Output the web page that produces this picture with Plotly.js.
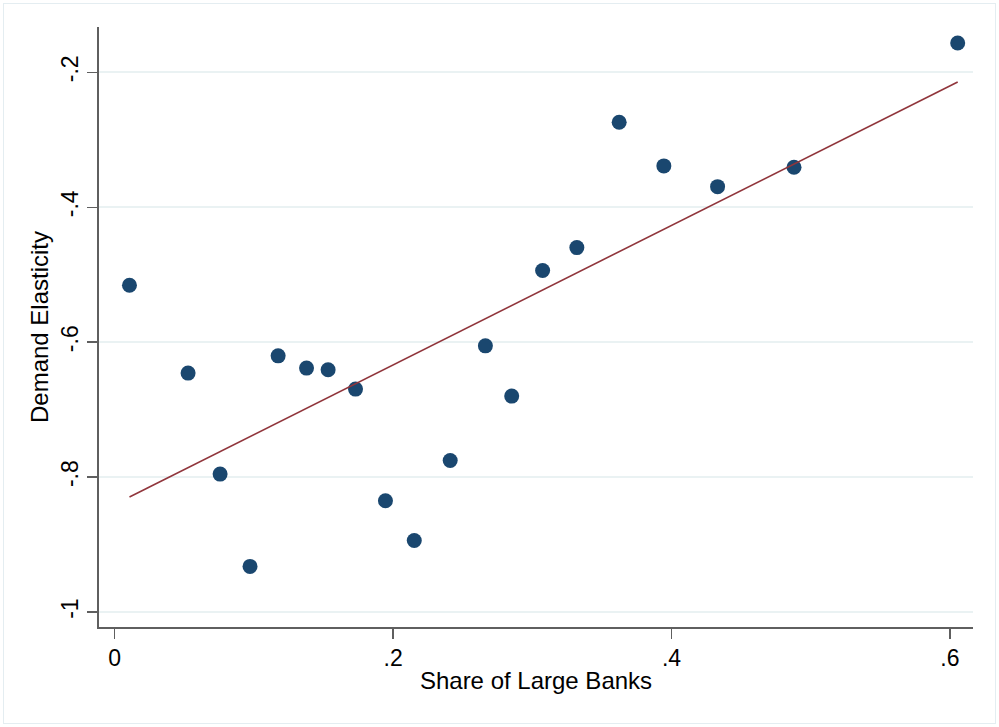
<!DOCTYPE html>
<html>
<head>
<meta charset="utf-8">
<script src="https://cdn.plot.ly/plotly-3.0.1.min.js"></script>
<style>
  html, body { margin: 0; padding: 0; background: #ffffff; }
  #wrap { position: relative; width: 999px; height: 727px; }
  #chart { width: 999px; height: 727px; }
  #frame { position: absolute; left: 3px; top: 3px; width: 991px; height: 719px;
           border: 1.5px solid #e4edf1; pointer-events: none; }
</style>
</head>
<body>
<div id="wrap"><div id="chart"></div><div id="frame"></div></div>
<script>
// Scatter points: share of large banks vs demand elasticity
const shareLargeBanks = [0.0106, 0.0527, 0.0757, 0.0972, 0.1174, 0.1378, 0.1533, 0.1730, 0.1945, 0.2152,
                         0.2410, 0.2663, 0.2852, 0.3074, 0.3320, 0.3624, 0.3945, 0.4331, 0.4880, 0.6056];
const demandElasticity = [-0.5156, -0.6459, -0.7956, -0.9324, -0.6203, -0.6385, -0.6410, -0.6696, -0.8351, -0.8939,
                          -0.7754, -0.6055, -0.6800, -0.4939, -0.4599, -0.2741, -0.3388, -0.3695, -0.3407, -0.1566];
// Linear fit line endpoints
const fitX = [0.0106, 0.6056];
const fitY = [-0.8296, -0.2144];
// Tick labels
const xTickVals = [0, 0.2, 0.4, 0.6];
const xTickText = ["0", ".2", ".4", ".6"];
const yTickVals = [-1, -0.8, -0.6, -0.4, -0.2];
const yTickText = ["-1", "-.8", "-.6", "-.4", "-.2"];

const font = "'Liberation Sans', Arial, Helvetica, sans-serif";

const traces = [
  {
    x: shareLargeBanks, y: demandElasticity, type: 'scatter', mode: 'markers',
    marker: { color: '#1a476f', size: 15, line: { width: 0 } },
    hoverinfo: 'skip', showlegend: false
  },
  {
    x: fitX, y: fitY, type: 'scatter', mode: 'lines',
    line: { color: '#90353b', width: 1.6 },
    hoverinfo: 'skip', showlegend: false
  }
];

const axisCommon = {
  showline: true, linecolor: '#5f5f5f', linewidth: 1.6,
  ticks: 'outside', ticklen: 10, tickwidth: 1.4, tickcolor: '#5f5f5f',
  zeroline: false, tickmode: 'array',
  tickfont: { family: font, size: 23, color: '#000000' }
};

const layout = {
  width: 999, height: 727,
  margin: { l: 99, r: 26, t: 27, b: 100 },
  paper_bgcolor: '#ffffff', plot_bgcolor: '#ffffff',
  showlegend: false,
  xaxis: Object.assign({}, axisCommon, {
    range: [-0.0113, 0.6166],
    tickvals: xTickVals, ticktext: xTickText,
    showgrid: false,
    title: { text: 'Share of Large Banks', font: { family: font, size: 24, color: '#000000' }, standoff: 2 }
  }),
  yaxis: Object.assign({}, axisCommon, {
    range: [-1.0222, -0.1329],
    tickvals: yTickVals, ticktext: yTickText, tickangle: -90,
    showgrid: true, gridcolor: '#eaf2f3', gridwidth: 1.6,
    title: { text: 'Demand Elasticity', font: { family: font, size: 24, color: '#000000' }, standoff: 2 }
  })
};

Plotly.newPlot('chart', traces, layout, { staticPlot: true, displayModeBar: false });
</script>
</body>
</html>
